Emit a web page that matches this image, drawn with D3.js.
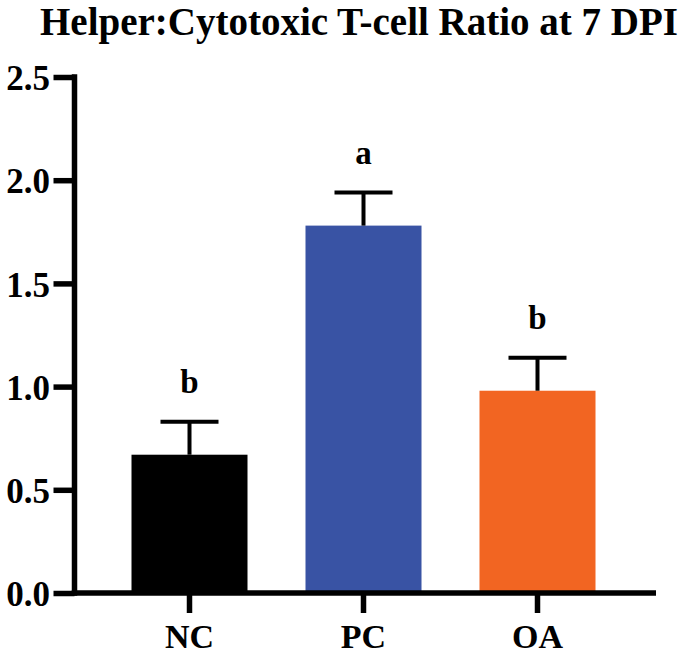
<!DOCTYPE html>
<html>
<head>
<meta charset="utf-8">
<script src="https://cdn.jsdelivr.net/npm/d3@7"></script>
<style>
  html, body { margin: 0; padding: 0; background: #fff; }
  svg text { font-family: "Liberation Serif", "Times New Roman", serif; font-weight: bold; fill: #000; }
</style>
</head>
<body>
<svg id="chart" width="687" height="656"></svg>
<script>
const categories = ["NC", "PC", "OA"];
const means = [0.67, 1.78, 0.98];
const errors = [0.16, 0.16, 0.16];
const letters = ["b", "a", "b"];
const colors = ["#000000", "#3953a4", "#f26522"];
const yTicks = [0, 0.5, 1.0, 1.5, 2.0, 2.5];
const title = "Helper:Cytotoxic T-cell Ratio at 7 DPI";

const svg = d3.select("#chart");
const axisX = 74.5, axisY = 593, axisEnd = 656;

const y = d3.scaleLinear().domain([0, 2.5]).range([axisY, 77]);
const x = d3.scaleBand().domain(categories).range([102.5, 624.5])
  .paddingInner(1/3).paddingOuter(1/6);

// title
svg.append("text")
  .attr("x", 359).attr("y", 35)
  .attr("text-anchor", "middle")
  .style("font-size", "39px")
  .text(title);

// bars
svg.selectAll("rect.bar").data(categories).enter().append("rect")
  .attr("class", "bar")
  .attr("x", d => x(d))
  .attr("width", x.bandwidth())
  .attr("y", (d, i) => y(means[i]))
  .attr("height", (d, i) => y(0) - y(means[i]))
  .attr("fill", (d, i) => colors[i]);

// error bars
const eb = svg.append("g").attr("stroke", "#000").attr("stroke-width", 4);
categories.forEach((c, i) => {
  const cx = x(c) + x.bandwidth() / 2;
  const capW = x.bandwidth() / 2;
  eb.append("line").attr("x1", cx).attr("x2", cx)
    .attr("y1", y(means[i])).attr("y2", y(means[i] + errors[i]));
  eb.append("line").attr("x1", cx - capW / 2).attr("x2", cx + capW / 2)
    .attr("y1", y(means[i] + errors[i])).attr("y2", y(means[i] + errors[i]));
});

// significance letters
svg.selectAll("text.sig").data(categories).enter().append("text")
  .attr("class", "sig")
  .attr("x", d => x(d) + x.bandwidth() / 2)
  .attr("y", (d, i) => y(means[i] + errors[i]) - 29)
  .attr("text-anchor", "middle")
  .style("font-size", "33px")
  .text((d, i) => letters[i]);

// y axis
const yAxis = svg.append("g").attr("transform", `translate(${axisX},0)`)
  .call(d3.axisLeft(y).tickValues(yTicks).tickFormat(d3.format(".1f"))
    .tickSize(21).tickPadding(3.5));
yAxis.select(".domain").remove();
yAxis.attr("font-size", null).attr("font-family", null);
yAxis.selectAll(".tick line").attr("stroke", "#000").attr("stroke-width", 5.5);
yAxis.selectAll(".tick text").style("font-size", "35px").attr("dy", "0.36em");
svg.append("line").attr("x1", axisX).attr("x2", axisX)
  .attr("y1", y(2.5) - 2.75).attr("y2", axisY + 2.75)
  .attr("stroke", "#000").attr("stroke-width", 5.5);

// x axis
const xAxis = svg.append("g").attr("transform", `translate(0,${axisY})`)
  .call(d3.axisBottom(x).tickSize(20).tickPadding(0));
xAxis.select(".domain").remove();
xAxis.attr("font-size", null).attr("font-family", null);
xAxis.selectAll(".tick line").attr("stroke", "#000").attr("stroke-width", 5.5);
xAxis.selectAll(".tick text").style("font-size", "34px")
  .attr("dy", null).attr("y", 55);
svg.append("line").attr("x1", axisX - 2.75).attr("x2", axisEnd)
  .attr("y1", axisY).attr("y2", axisY)
  .attr("stroke", "#000").attr("stroke-width", 5.5);
</script>
</body>
</html>
